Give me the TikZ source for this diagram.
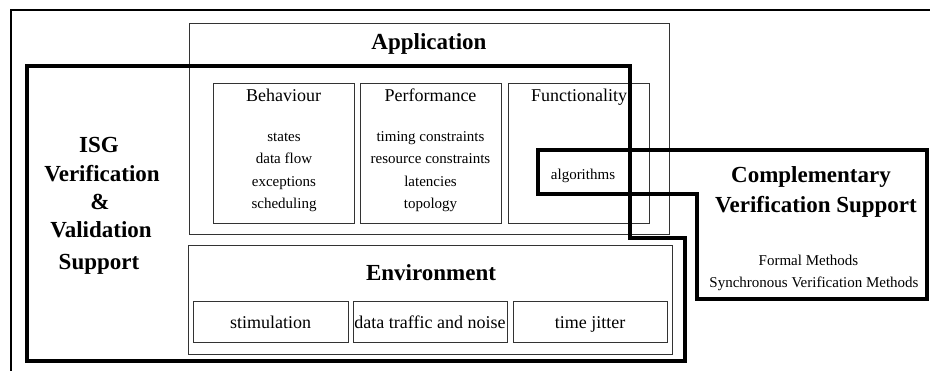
\documentclass[tikz,border=0pt]{standalone}
\usepackage{fontspec}
\setmainfont{Liberation Serif}
\usetikzlibrary{fit}
\begin{document}
\begin{tikzpicture}[x=1pt,y=-1pt,
  box/.style={draw=black!80, line width=0.9pt, inner sep=0pt, rectangle},
  frame/.style={line width=3.3pt, line join=miter},
  big/.style={inner sep=0pt, text height=16.1pt, text depth=4.6pt, font=\fontsize{23}{28}\selectfont\bfseries},
  mid/.style={inner sep=0pt, text height=12.6pt, text depth=3.6pt, font=\fontsize{18}{22}\selectfont},
  small/.style={inner sep=0pt, text height=10.5pt, text depth=3pt, font=\fontsize{15}{18}\selectfont}]
\useasboundingbox (0,0) rectangle (930,371);
\fill[white] (0,0) rectangle (930,371);

% outer partial frame
\coordinate (o1) at (11,371);
\coordinate (o2) at (11,10);
\coordinate (o3) at (930,10);
\draw[line width=2.3pt] (o1) -- (o2) -- (o3);

% Application
\node[box, fit={(189,23) (669,234)}] (app) {};
\node[big] (appt) at (429,44.2) {Application};
\node[box, fit={(213,83) (354,223)}] (beh) {};
\node[box, fit={(360,83) (501,223)}] (perf) {};
\node[box, fit={(508,83) (649,223)}] (func) {};
\node[mid] (beht) at (283.5,97.5) {Behaviour};
\node[mid] (perft) at (430.5,97.5) {Performance};
\node[mid] (funct) at (579,97.5) {Functionality};
\node[small] (b1) at (284,138) {states};
\node[small] (b2) at (284,160.2) {data flow};
\node[small] (b3) at (284,182.4) {exceptions};
\node[small] (b4) at (284,204.6) {scheduling};
\node[small] (p1) at (430.5,138) {timing constraints};
\node[small] (p2) at (430.5,160.2) {resource constraints};
\node[small] (p3) at (430.5,182.4) {latencies};
\node[small] (p4) at (430.5,204.6) {topology};
\node[small] (alg) at (583,175.3) {algorithms};

% Environment
\node[box, fit={(188,245) (672,354)}] (env) {};
\node[big] (envt) at (431,274.3) {Environment};
\node[box, fit={(193,301) (348,342)}] (stim) {};
\node[box, fit={(353,301) (507,342)}] (traf) {};
\node[box, fit={(513,301) (667,342)}] (jit) {};
\node[mid] (stimt) at (270.5,323.8) {stimulation};
\node[mid] (traft) at (430,323.8) {data traffic and noise};
\node[mid] (jitt) at (590,323.8) {time jitter};

% ISG frame
\draw[frame] (27,66) -- (630,66) -- (630,238) -- (685,238) -- (685,361) -- (27,361) -- cycle;
\node[big] (i1) at (99,147) {ISG};
\node[big] (i2) at (102,175.3) {Verification};
\node[big] (i3) at (100,203.4) {\&};
\node[big] (i4) at (101,231.6) {Validation};
\node[big] (i5) at (99,263.3) {Support};

% Complementary frame
\draw[frame] (538,150) -- (927,150) -- (927,299) -- (697,299) -- (697,194) -- (538,194) -- cycle;
\node[big] (c1) at (811,177) {Complementary};
\node[big] (c2) at (816,207) {Verification Support};
\node[small] (c3) at (808.5,261.3) {Formal Methods};
\node[small] (c4) at (814,283.6) {Synchronous Verification Methods};
\end{tikzpicture}
\end{document}
